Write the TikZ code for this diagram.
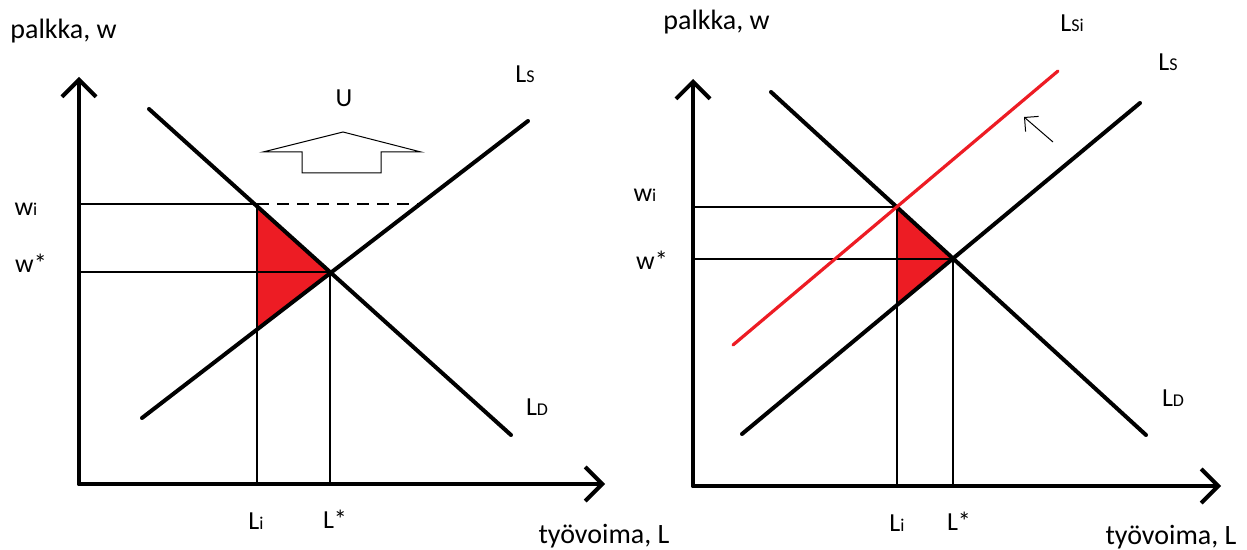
\documentclass[tikz,border=0pt]{standalone}
\usepackage{fontspec}
\setmainfont{Carlito}
\usepackage{xcolor}
\usepackage{tikz}
\usetikzlibrary{arrows.meta, positioning}
\definecolor{paintred}{RGB}{237,28,36}
\tikzstyle{axis} = [line width=2pt, line cap=round, -{Straight Barb[length=8.5pt, width=17pt]}]
\tikzstyle{curve} = [line width=2pt, line cap=round]
\tikzstyle{guide} = [line width=0.6pt]
\tikzstyle{lbl} = [inner sep=0pt, font=\fontsize{13}{15}\selectfont]
\tikzstyle{axlbl} = [inner sep=0pt, font=\fontsize{14}{16}\selectfont]
\newcommand{\lowtxt}[1]{{\fontsize{9}{10}\selectfont #1}}

\begin{document}
\begin{tikzpicture}[x=0.5pt, y=-0.5pt]
  \useasboundingbox (0,0) rectangle (1247,550);

  % Left diagram: points
  \coordinate (O1) at (79,484);
  \coordinate (Y1) at (79,77);
  \coordinate (X1) at (605,484);
  \coordinate (lda1) at (149,109);
  \coordinate (ldb1) at (511,435);
  \coordinate (lsa1) at (142,418);
  \coordinate (lsb1) at (528,121);
  \coordinate (eq1) at (330,272);
  \coordinate (wi1) at (257,204);
  \coordinate (tri1) at (257,328);
  \coordinate (wiax1) at (79,204);
  \coordinate (wsax1) at (79,272);
  \coordinate (liax1) at (257,484);
  \coordinate (lsax1) at (330,484);
  \coordinate (dash1) at (420,204);

  % Left diagram: loss triangle and guides
  \fill[paintred] (wi1) -- (eq1) -- (tri1) -- cycle;
  \draw[guide] (wiax1) -- (wi1);
  \draw[guide, dash pattern=on 6pt off 4pt] (wi1) -- (dash1);
  \draw[guide] (wsax1) -- (eq1);
  \draw[guide] (liax1) -- (wi1);
  \draw[guide] (lsax1) -- (eq1);

  % Left diagram: curves and axes
  \draw[curve] (lda1) -- (ldb1);
  \draw[curve] (lsa1) -- (lsb1);
  \draw[axis] (O1) -- (Y1);
  \draw[axis] (O1) -- (X1);

  % Union arrow
  \draw[line width=0.5pt] (263,152) -- (343,132) -- (421,152) -- (381,152)
    -- (381,173) -- (302,173) -- (302,152) -- cycle;

  % Left diagram: labels
  \node[axlbl, anchor=west] (pw1) at (10,31) {palkka, w};
  \node[lbl] (u1) at (344,98) {U};
  \node[lbl] (ls1) at (525,74) {L\lowtxt{S}};
  \node[lbl] (ld1) at (537,407) {L\lowtxt{D}};
  \node[lbl] (w1) at (26,209) {w\lowtxt{i}};
  \node[lbl] (wst1) at (31,263) {w*};
  \node[lbl] (li1) at (256,521) {L\lowtxt{i}};
  \node[lbl] (lst1) at (335,519) {L*};
  \node[axlbl] (tl1) at (604,536) {työvoima, L};

  % Right diagram: points
  \coordinate (O2) at (693,486);
  \coordinate (Y2) at (693,79);
  \coordinate (X2) at (1221,486);
  \coordinate (lda2) at (771,92);
  \coordinate (ldb2) at (1146,435);
  \coordinate (lsa2) at (742,434);
  \coordinate (lsb2) at (1140,103);
  \coordinate (lsia2) at (733,345);
  \coordinate (lsib2) at (1058,71);
  \coordinate (eq2) at (953,259);
  \coordinate (wi2) at (897,207);
  \coordinate (tri2) at (897,303);
  \coordinate (wiax2) at (693,207);
  \coordinate (wsax2) at (693,259);
  \coordinate (liax2) at (897,486);
  \coordinate (lsax2) at (953,486);
  \coordinate (sh0) at (1053,142);
  \coordinate (sh1) at (1024,117);

  % Right diagram: loss triangle and guides
  \fill[paintred] (wi2) -- (eq2) -- (tri2) -- cycle;
  \draw[guide] (wiax2) -- (wi2);
  \draw[guide] (wsax2) -- (eq2);
  \draw[guide] (liax2) -- (wi2);
  \draw[guide] (lsax2) -- (eq2);

  % Right diagram: curves and axes
  \draw[curve] (lda2) -- (ldb2);
  \draw[curve] (lsa2) -- (lsb2);
  \draw[curve, paintred, line width=1.6pt] (lsia2) -- (lsib2);
  \draw[line width=0.5pt, -{Straight Barb[length=5pt, width=10pt]}] (sh0) -- (sh1);
  \draw[axis] (O2) -- (Y2);
  \draw[axis] (O2) -- (X2);

  % Right diagram: labels
  \node[axlbl, anchor=west] (pw2) at (663,22) {palkka, w};
  \node[lbl] (lsi2) at (1072,23) {L\lowtxt{Si}};
  \node[lbl] (ls2) at (1168,62) {L\lowtxt{S}};
  \node[lbl] (ld2) at (1173,398) {L\lowtxt{D}};
  \node[lbl] (w2) at (645,195) {w\lowtxt{i}};
  \node[lbl] (wst2) at (652,260) {w*};
  \node[lbl] (li2) at (897,523) {L\lowtxt{i}};
  \node[lbl] (lst2) at (959,521) {L*};
  \node[axlbl] (tl2) at (1171,537) {työvoima, L};

\end{tikzpicture}
\end{document}
